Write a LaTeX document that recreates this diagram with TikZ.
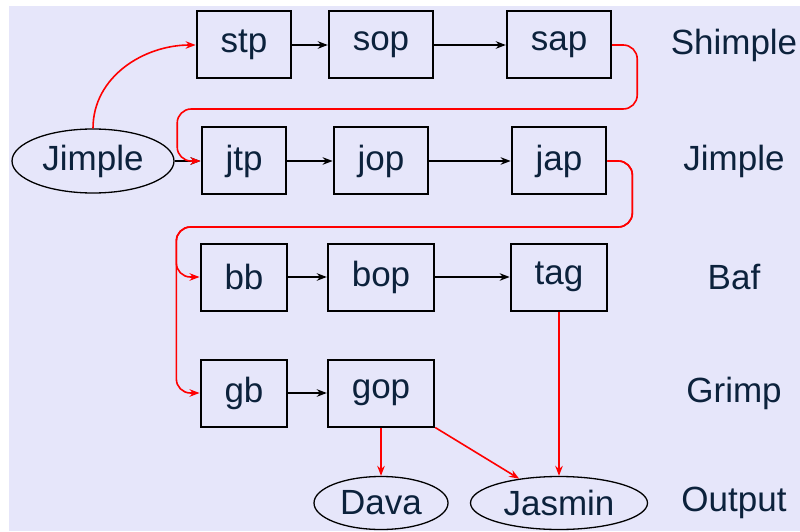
\documentclass[tikz,border=0pt]{standalone}
\usepackage{fontspec}
\setmainfont{Liberation Sans}
\usetikzlibrary{arrows.meta,positioning,shapes.geometric}
\definecolor{lavbg}{RGB}{230,230,250}
\definecolor{inktext}{RGB}{12,34,60}
\definecolor{feedred}{RGB}{255,0,0}
\tikzset{x=1pt, y=1pt,
        node distance=116pt, % row spacing
        every node/.style={text=inktext, font=\fontsize{35}{42}\selectfont},
        pass/.style={ % one pack of the pipeline
            draw=black, line width=2pt, fill=lavbg,
            minimum height=67pt, inner xsep=24pt, inner ysep=0pt},
        lang/.style={ % input and output forms
            ellipse, draw=black, line width=1.3pt, inner sep=0pt,
            minimum height=53pt},
        every edge/.style={ % black arrows inside a row
            draw=black,
            -{Stealth[length=10pt,width=7.5pt]},
            line width=2pt},
        feed/.style={ % red arrows between rows
            draw=feedred,
            -{Stealth[length=10pt,width=7.5pt]},
            line width=1.6pt,
            rounded corners=14pt}
        }
\begin{document}
\begin{tikzpicture}
    \useasboundingbox (0,0) rectangle (800,531);
    \fill[lavbg] (9,0) rectangle (800,525);

    % Shimple row
    \node[pass] (stp) at (244,486) {stp};
    \node[pass] (sop) [node distance=137pt, right of=stp] {sop};
    \node[pass] (sap) [node distance=178pt, right of=sop] {sap};
    % Jimple row
    \node[pass] (jtp) [below of=stp] {jtp};
    \node[pass] (jop) [node distance=137pt, right of=jtp] {jop};
    \node[pass] (jap) [node distance=178pt, right of=jop] {jap};
    % Baf row
    \node[pass] (bb) [below of=jtp] {bb};
    \node[pass] (bop) [node distance=137pt, right of=bb] {bop};
    \node[pass] (tag) [node distance=178pt, right of=bop] {tag};
    % Grimp row
    \node[pass] (gb) [below of=bb] {gb};
    \node[pass] (gop) [node distance=137pt, right of=gb] {gop};

    \node[lang, minimum width=162pt, minimum height=64pt] (jimple) [node distance=151pt, left of=jtp] {Jimple};
    \node[lang, minimum width=134pt] (dava) [node distance=110pt, below of=gop] {Dava};
    \node[lang, minimum width=177pt] (jasmin) [node distance=226pt, below of=tag] {Jasmin};

    % row names
    \node (shimplename) [node distance=175pt, right of=sap] {Shimple};
    \node (jimplename) [node distance=175pt, right of=jap] {Jimple};
    \node (bafname) [node distance=175pt, right of=tag] {Baf};
    \node (grimpname) [below of=bafname] {Grimp};
    \node (outputname) [node distance=175pt, right of=jasmin] {Output};

    \draw
        (stp) edge (sop)
        (sop) edge (sap)
        (jimple) edge (jtp)
        (jtp) edge (jop)
        (jop) edge (jap)
        (bb) edge (bop)
        (bop) edge (tag)
        (gb) edge (gop);

    \draw[feed] (jimple.north) to[out=90, in=180] (stp.west);
    \draw[feed] (sap.east) -- ++(25,0) |- ++(-460,-64) |- (jtp.west);
    \draw[feed] (jap.east) -- ++(25,0) |- ++(-456,-66) |- (bb.west);
    \draw[feed] (jap.east) -- ++(25,0) |- ++(-456,-66) |- (gb.west);
    \draw[feed] (tag) -- (jasmin);
    \draw[feed] (gop) -- (dava);
    \draw[feed] (gop.south east) -- (jasmin);
\end{tikzpicture}
\end{document}
